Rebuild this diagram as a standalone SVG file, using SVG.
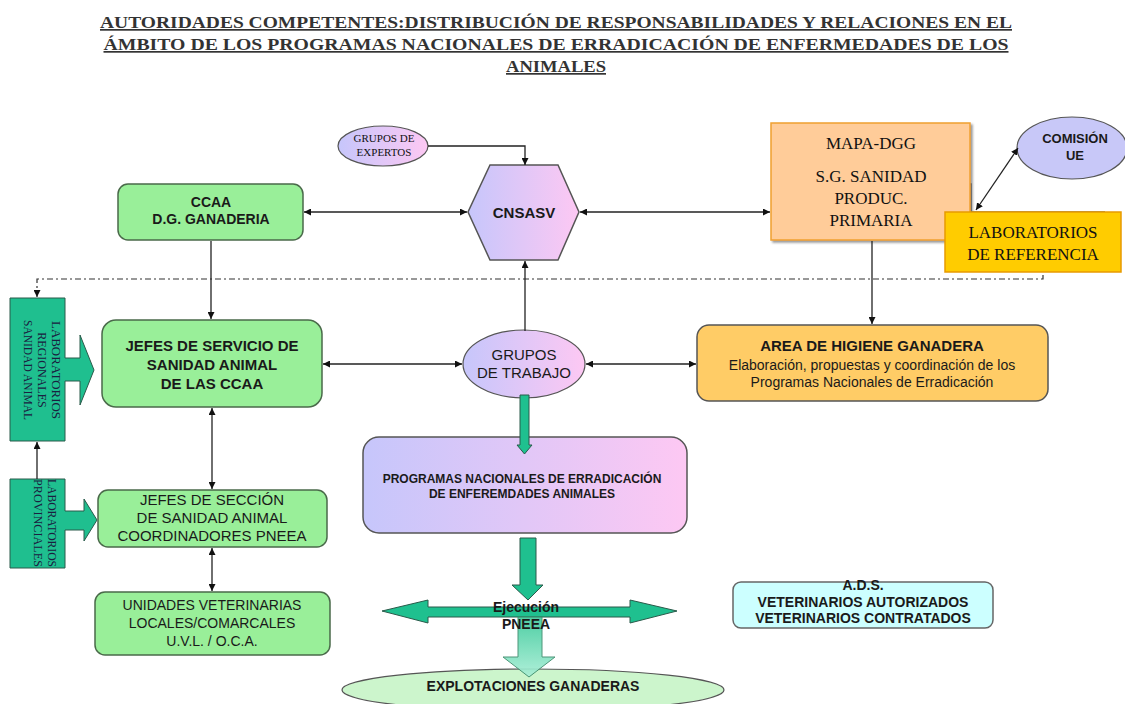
<svg xmlns="http://www.w3.org/2000/svg" width="1125" height="704" viewBox="0 0 1125 704">
<defs>
<linearGradient id="lp" x1="0" y1="0" x2="1" y2="0">
<stop offset="0" stop-color="#c6c6fb"/><stop offset="1" stop-color="#fdc8f3"/>
</linearGradient>
<linearGradient id="ga" x1="0" y1="0" x2="0" y2="1">
<stop offset="0" stop-color="#3cc99a"/><stop offset="1" stop-color="#a8efd6"/>
</linearGradient>
<marker id="ah" viewBox="0 0 10 10" refX="10" refY="5" markerWidth="7" markerHeight="7" orient="auto-start-reverse" markerUnits="userSpaceOnUse">
<path d="M0,0 L10,5 L0,10 z" fill="#111"/>
</marker>
<filter id="sh" x="-10%" y="-10%" width="130%" height="130%">
<feDropShadow dx="2" dy="2" stdDeviation="1" flood-color="#555" flood-opacity="0.6"/>
</filter>
</defs>
<style>
.t{font-family:"Liberation Serif","Times New Roman",serif;font-size:17px;font-weight:bold;fill:#333;text-decoration:underline;text-anchor:middle}
.sb{font-family:"Liberation Sans",Arial,sans-serif;font-weight:bold;fill:#1a1a1a;text-anchor:middle}
.sr{font-family:"Liberation Sans",Arial,sans-serif;fill:#1a1a1a;text-anchor:middle}
.se{font-family:"Liberation Serif","Times New Roman",serif;fill:#111;text-anchor:middle}
.lab{font-family:"Liberation Serif","Times New Roman",serif;fill:#1a2040;text-anchor:middle;font-size:12px}
.gbox{fill:#99ef99;stroke:#4a6a4a;stroke-width:1.5}
.ln{stroke:#222;stroke-width:1.3;fill:none}
.teal{fill:#1fbf8f;stroke:#2a5a4a;stroke-width:1}
</style>

<g id="title">
<text class="t" x="556" y="28" textLength="912" lengthAdjust="spacingAndGlyphs">AUTORIDADES COMPETENTES:DISTRIBUCIÓN DE RESPONSABILIDADES Y RELACIONES EN EL</text>
<text class="t" x="556" y="50" textLength="905" lengthAdjust="spacingAndGlyphs">ÁMBITO DE LOS PROGRAMAS NACIONALES DE ERRADICACIÓN DE ENFERMEDADES DE LOS</text>
<text class="t" x="556" y="72" textLength="100" lengthAdjust="spacingAndGlyphs">ANIMALES</text>
</g>

<g id="grupos-expertos">
<ellipse cx="383" cy="146" rx="45" ry="20" fill="url(#lp)" stroke="#555" stroke-width="1.2"/>
<text class="se" x="384" y="142" font-size="11">GRUPOS DE</text>
<text class="se" x="384" y="156" font-size="11">EXPERTOS</text>
</g>

<g id="cnsasv">
<polygon points="490,165 558,165 579,212 558,260 490,260 468,212" fill="url(#lp)" stroke="#555" stroke-width="1.5"/>
<text class="sb" x="524" y="218" font-size="15">CNSASV</text>
</g>

<g id="ccaa">
<rect class="gbox" x="118" y="184" width="185" height="56" rx="10"/>
<text class="sb" x="211" y="207" font-size="14">CCAA</text>
<text class="sb" x="211" y="224" font-size="14">D.G. GANADERIA</text>
</g>

<g id="mapa-dgg">
<path d="M960,184 H971 V212 H1105" fill="none" stroke="#666" stroke-width="1.5"/>
<rect x="771" y="123" width="199" height="117" fill="#ffcc99" stroke="#f0a030" stroke-width="1.5" filter="url(#sh)"/>
<text class="se" x="871" y="149" font-size="17">MAPA-DGG</text>
<text class="se" x="871" y="182" font-size="17">S.G. SANIDAD</text>
<text class="se" x="871" y="204" font-size="17">PRODUC.</text>
<text class="se" x="871" y="226" font-size="17">PRIMARIA</text>
</g>

<g id="laboratorios-referencia">
<rect x="945" y="212" width="176" height="60" fill="#ffcc00" stroke="#e89a00" stroke-width="1.5"/>
<text class="se" x="1033" y="238" font-size="17">LABORATORIOS</text>
<text class="se" x="1033" y="260" font-size="17">DE REFERENCIA</text>
</g>

<g id="comision-ue">
<ellipse cx="1072" cy="148" rx="55" ry="31" fill="#c8c8f8" stroke="#555" stroke-width="1.2"/>
<text class="sb" x="1075" y="143" font-size="13">COMISIÓN</text>
<text class="sb" x="1075" y="160" font-size="13">UE</text>
</g>

<g id="lab-regionales">
<path class="teal" d="M10,298 H65 V358 H80 V335 L94,370 L80,405 V381 H65 V441 H10 Z"/>
<g transform="translate(37,370) rotate(90)">
<text class="lab" x="0" y="-15" textLength="98" lengthAdjust="spacingAndGlyphs">LABORATORIOS</text>
<text class="lab" x="0" y="-1">REGIONALES</text>
<text class="lab" x="0" y="13" textLength="100" lengthAdjust="spacingAndGlyphs">SANIDAD ANIMAL</text>
</g>
</g>

<g id="lab-provinciales">
<path class="teal" d="M10,479 H65 V511 H84 V499 L97,520 L84,541 V530 H65 V568 H10 Z"/>
<g transform="translate(40,523) rotate(90)">
<text class="lab" x="0" y="-8" textLength="88" lengthAdjust="spacingAndGlyphs">LABORATORIOS</text>
<text class="lab" x="0" y="6" textLength="88" lengthAdjust="spacingAndGlyphs">PROVINCIALES</text>
</g>
</g>

<g id="jefes-servicio">
<rect class="gbox" x="102" y="320" width="220" height="87" rx="14"/>
<text class="sb" x="212" y="351" font-size="15">JEFES DE SERVICIO DE</text>
<text class="sb" x="212" y="370" font-size="15">SANIDAD ANIMAL</text>
<text class="sb" x="212" y="389" font-size="15">DE LAS CCAA</text>
</g>

<g id="jefes-seccion">
<rect class="gbox" x="98" y="490" width="229" height="57" rx="10"/>
<text class="sr" x="212" y="505" font-size="15">JEFES DE SECCIÓN</text>
<text class="sr" x="212" y="523" font-size="15">DE SANIDAD ANIMAL</text>
<text class="sr" x="212" y="541" font-size="15">COORDINADORES PNEEA</text>
</g>

<g id="unidades-veterinarias">
<rect class="gbox" x="95" y="592" width="235" height="63" rx="10"/>
<text class="sr" x="212" y="610" font-size="14">UNIDADES VETERINARIAS</text>
<text class="sr" x="212" y="628" font-size="14">LOCALES/COMARCALES</text>
<text class="sr" x="212" y="646" font-size="14">U.V.L. / O.C.A.</text>
</g>

<g id="grupos-trabajo">
<ellipse cx="524" cy="364" rx="61" ry="34" fill="url(#lp)" stroke="#555" stroke-width="1.2"/>
<text class="sr" x="524" y="360" font-size="15">GRUPOS</text>
<text class="sr" x="524" y="378" font-size="15">DE TRABAJO</text>
</g>

<g id="area-higiene">
<rect x="697" y="325" width="351" height="76" rx="12" fill="#ffcc66" stroke="#555" stroke-width="1.5"/>
<text class="sb" x="872" y="351" font-size="15">AREA DE HIGIENE GANADERA</text>
<text class="sr" x="872" y="370" font-size="14">Elaboración, propuestas y coordinación de los</text>
<text class="sr" x="872" y="387" font-size="14">Programas Nacionales de Erradicación</text>
</g>

<g id="programas-nacionales">
<rect x="363" y="437" width="324" height="96" rx="16" fill="url(#lp)" stroke="#555" stroke-width="1.5"/>
<text class="sb" x="522" y="483" font-size="12">PROGRAMAS NACIONALES DE ERRADICACIÓN</text>
<text class="sb" x="522" y="498" font-size="12">DE ENFEREMDADES ANIMALES</text>
</g>

<g id="explotaciones">
<ellipse cx="533" cy="690" rx="191" ry="21" fill="#ccf5cc" stroke="#555" stroke-width="1.2"/>
<text class="sb" x="533" y="691" font-size="14">EXPLOTACIONES GANADERAS</text>
</g>

<g id="ads">
<rect x="733" y="582" width="260" height="46" rx="8" fill="#ccffff" stroke="#666" stroke-width="1.5"/>
<text class="sb" x="863" y="590" font-size="14">A.D.S.</text>
<text class="sb" x="863" y="607" font-size="14">VETERINARIOS AUTORIZADOS</text>
<text class="sb" x="863" y="623" font-size="14">VETERINARIOS CONTRATADOS</text>
</g>

<g id="connectors">
<path class="ln" d="M428,146 H525 V165" marker-end="url(#ah)"/>
<path class="ln" d="M304,212 H467" marker-start="url(#ah)" marker-end="url(#ah)"/>
<path class="ln" d="M580,212 H770" marker-start="url(#ah)" marker-end="url(#ah)"/>
<path class="ln" d="M976,210 L1018,148" marker-start="url(#ah)" marker-end="url(#ah)"/>
<path d="M1043,275 V279 H37 V297" fill="none" stroke="#333" stroke-width="1.2" stroke-dasharray="6,3,2,3" marker-end="url(#ah)"/>
<path class="ln" d="M211,241 V319" marker-end="url(#ah)"/>
<path class="ln" d="M525,331 V261" marker-end="url(#ah)"/>
<path class="ln" d="M872,241 V324" marker-end="url(#ah)"/>
<path class="ln" d="M323,364 H462" marker-start="url(#ah)" marker-end="url(#ah)"/>
<path class="ln" d="M586,364 H696" marker-start="url(#ah)" marker-end="url(#ah)"/>
<path class="ln" d="M212,408 V489" marker-start="url(#ah)" marker-end="url(#ah)"/>
<path class="ln" d="M212,548 V591" marker-start="url(#ah)" marker-end="url(#ah)"/>
<path class="ln" d="M37,479 V442" marker-end="url(#ah)"/>
<path d="M520,395 H529 V445 H532 L524.5,454 L517,445 H520 Z" fill="#1fc08f" stroke="#2a5a4a" stroke-width="1"/>
<path d="M520,538 H536 V585 H543 L528,600 L512,585 H520 Z" fill="#1fc08f" stroke="#2a5a4a" stroke-width="1"/>
<path d="M382,611 L428,600 V607 H630 V600 L677,611 L630,623 V617 H428 V623 Z" fill="#1fc08f" stroke="#2a5a4a" stroke-width="1"/>
<path d="M518,617 H542 V657 H555 L529,677 L503,657 H518 Z" fill="url(#ga)" stroke="#3a8a6a" stroke-width="1" opacity="0.9"/>
</g>

<g id="ejecucion-label">
<text class="sb" x="526" y="612" font-size="14">Ejecución</text>
<text class="sb" x="526" y="629" font-size="14">PNEEA</text>
</g>
</svg>
